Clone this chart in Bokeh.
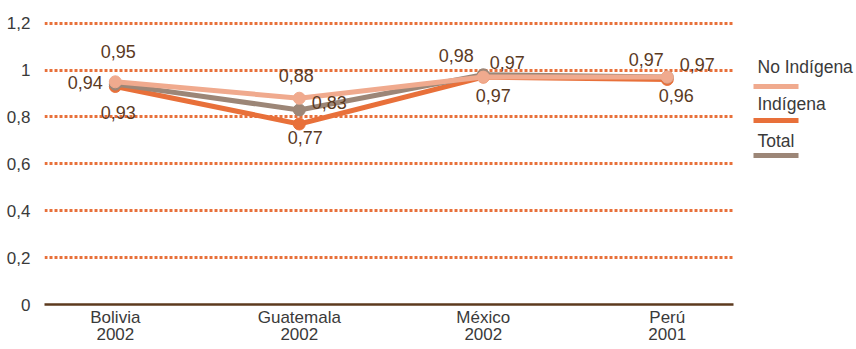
from bokeh.plotting import figure
from bokeh.layouts import row
from bokeh.models import ColumnDataSource, Range1d, FixedTicker
from bokeh.core.properties import value
from bokeh.embed import file_html
from bokeh.resources import INLINE

countries = ["Bolivia\n2002", "Guatemala\n2002", "México\n2002", "Perú\n2001"]
no_indigena = [0.95, 0.88, 0.97, 0.97]
indigena = [0.93, 0.77, 0.97, 0.96]
total = [0.94, 0.83, 0.98, 0.97]
y_ticks = [0, 0.2, 0.4, 0.6, 0.8, 1.0, 1.2]
y_tick_labels = ["0", "0,2", "0,4", "0,6", "0,8", "1", "1,2"]
series_names = ["No Indígena", "Indígena", "Total"]

C_NOIND = "#f0aa8e"
C_IND = "#e8703a"
C_TOT = "#9c8677"
C_GRID = "#e8703a"
C_LABEL = "#5b3a1f"
C_TEXT = "#3a3a3a"
FONT = "Liberation Sans"

xs = list(range(len(countries)))

p = figure(width=740, height=349, output_backend="svg", toolbar_location=None,
           x_range=Range1d(-0.385, 3.36), y_range=Range1d(0, 1.22),
           min_border_left=44, min_border_right=7, min_border_top=18, min_border_bottom=45)
p.outline_line_color = None
p.background_fill_color = "white"
p.border_fill_color = "white"

# axes
p.xaxis.ticker = FixedTicker(ticks=xs)
p.xaxis.major_label_overrides = {i: c for i, c in enumerate(countries)}
p.xaxis.axis_line_color = "#5c3a1e"
p.xaxis.axis_line_width = 2.5
p.xaxis.major_tick_line_color = None
p.xaxis.minor_tick_line_color = None
p.xaxis.major_tick_out = 0
p.xaxis.major_tick_in = 0
p.xaxis.minor_tick_out = 0
p.xaxis.major_label_text_font = FONT
p.xaxis.major_label_text_font_size = "17px"
p.xaxis.major_label_text_color = C_TEXT
p.xaxis.major_label_text_line_height = 0.9
p.xaxis.major_label_standoff = 3

p.yaxis.ticker = FixedTicker(ticks=y_ticks)
p.yaxis.major_label_overrides = {t: l for t, l in zip(y_ticks, y_tick_labels)}
p.yaxis.axis_line_color = None
p.yaxis.major_tick_line_color = None
p.yaxis.minor_tick_line_color = None
p.yaxis.major_label_text_font = FONT
p.yaxis.major_label_text_font_size = "17px"
p.yaxis.major_label_text_color = C_TEXT
p.yaxis.major_label_standoff = 8

p.xgrid.grid_line_color = None
p.ygrid.ticker = FixedTicker(ticks=y_ticks[1:])
p.ygrid.grid_line_color = C_GRID
p.ygrid.grid_line_width = 3
p.ygrid.grid_line_dash = "3 2"

# series (drawn bottom to top)
for vals, col in [(indigena, C_IND), (total, C_TOT), (no_indigena, C_NOIND)]:
    p.line(xs, vals, line_color=col, line_width=5, line_join="round")
    p.scatter(xs, vals, size=12, fill_color=col, line_color=col)

# data labels
lab_x, lab_y, lab_t, dx, dy = [], [], [], [], []
offsets = {
    "no": [(3, -30), (-3, -23), (24, -15), (-21, -18)],
    "ind": [(3, 26), (6, 14), (10, 18), (9, 16)],
    "tot": [(-30, -2), (30, -7), (-27, -19), (30, -13)],
}
for key, vals in [("no", no_indigena), ("ind", indigena), ("tot", total)]:
    for i, v in enumerate(vals):
        lab_x.append(i)
        lab_y.append(v)
        lab_t.append(f"{v:.2f}".replace(".", ","))
        dx.append(offsets[key][i][0])
        dy.append(offsets[key][i][1])
src = ColumnDataSource(dict(x=lab_x, y=lab_y, t=lab_t, dx=dx, dy=dy))
p.text(x="x", y="y", text="t", x_offset="dx", y_offset="dy", source=src,
       text_font=value(FONT), text_font_size="18px", text_color=C_LABEL,
       text_align="center", text_baseline="middle")

# legend figure (frame aligned with main frame: y 18..304 on screen)
lg = figure(width=116, height=349, output_backend="svg", toolbar_location=None,
            x_range=Range1d(740, 856), y_range=Range1d(304, 18),
            x_axis_type=None, y_axis_type=None,
            min_border_left=0, min_border_right=0,
            min_border_top=18, min_border_bottom=45)
lg.outline_line_color = None
lg.xgrid.grid_line_color = None
lg.ygrid.grid_line_color = None
leg_text_y = [66, 103, 140]
leg_line_y = [86, 120, 155]
for name, col, ty, ly in zip(series_names, [C_NOIND, C_IND, C_TOT], leg_text_y, leg_line_y):
    lg.text(x=[757], y=[ty], text=[name], text_font=value(FONT), text_font_size="17.5px",
            text_color=C_TEXT, text_align="left", text_baseline="middle")
    lg.segment(x0=[753], y0=[ly], x1=[798], y1=[ly], line_color=col, line_width=5)

layout = row(p, lg, spacing=0)
open("out.html", "w").write(file_html(layout, INLINE))
